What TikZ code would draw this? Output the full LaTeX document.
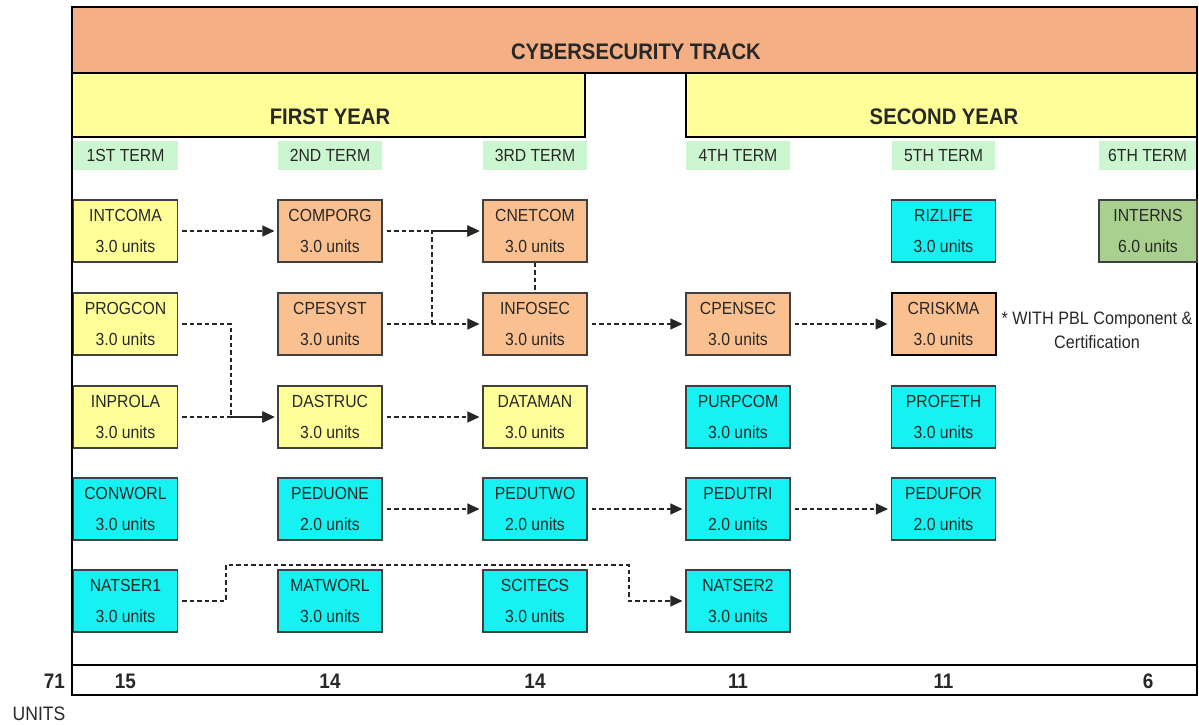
\documentclass[tikz,border=0pt]{standalone}
\usepackage{fontspec}
\setmainfont[FakeStretch=0.9]{Liberation Sans}
\usetikzlibrary{arrows.meta}
\definecolor{hdr}{RGB}{244,176,132}
\definecolor{yr}{RGB}{255,255,153}
\definecolor{termg}{RGB}{204,246,208}
\definecolor{cyell}{RGB}{255,255,153}
\definecolor{corange}{RGB}{250,192,144}
\definecolor{ccyan}{RGB}{22,242,242}
\definecolor{cgreen}{RGB}{169,208,142}
\definecolor{txt}{RGB}{40,40,40}
\tikzset{
  frame/.style={line width=2pt, black},
  course/.style={draw=black!75, line width=1.1pt, minimum width=104pt, minimum height=62pt,
    inner sep=0pt, align=center, text=txt, font=\fontsize{17.5}{31}\selectfont,
    execute at begin node={\rule{0pt}{17pt}}},
  ycourse/.style={course, fill=cyell},
  ocourse/.style={course, fill=corange},
  ccourse/.style={course, fill=ccyan},
  gcourse/.style={course, fill=cgreen},
  termlbl/.style={fill=termg, minimum height=29pt, inner sep=0pt, text=txt, font=\fontsize{17.5}{20}\selectfont},
  yearlbl/.style={inner sep=0pt, font=\fontsize{22.5}{25}\selectfont\bfseries, text=txt},
  total/.style={inner sep=0pt, font=\fontsize{21}{23}\selectfont\bfseries, text=txt},
  link/.style={dashed, dash pattern=on 4.5pt off 3pt, line width=1.1pt, black!85,
    -{Triangle[length=12pt,width=11pt]}, shorten <=4pt, shorten >=3pt},
  plainlink/.style={dashed, dash pattern=on 4.5pt off 3pt, line width=1.1pt, black!85},
}
\begin{document}
\begin{tikzpicture}[x=1pt,y=-1pt]
\useasboundingbox (0,0) rectangle (1199,725);
% header bands
\fill[hdr] (72,7) rectangle (1197,73);
\fill[yr] (72,73) rectangle (585,137);
\fill[yr] (686,73) rectangle (1197,137);
\draw[frame] (72,7) rectangle (1197,665);
\draw[frame] (72,73) -- (1197,73);
\draw[frame] (72,137) -- (585,137) -- (585,73);
\draw[frame] (686,73) -- (686,137) -- (1197,137);
\draw[frame] (72,665) rectangle (1197,695);
\node[yearlbl] (title) at (636,52) {CYBERSECURITY TRACK};
\node[yearlbl] (y1) at (330,117) {FIRST YEAR};
\node[yearlbl] (y2) at (944,117) {SECOND YEAR};
% terms
\node[termlbl, minimum width=105pt] (t1) at (125.5,155.5) {1ST TERM};
\node[termlbl, minimum width=104pt] (t2) at (330,155.5) {2ND TERM};
\node[termlbl, minimum width=104pt] (t3) at (535,155.5) {3RD TERM};
\node[termlbl, minimum width=104pt] (t4) at (738,155.5) {4TH TERM};
\node[termlbl, minimum width=103pt] (t5) at (943.5,155.5) {5TH TERM};
\node[termlbl, minimum width=97pt] (t6) at (1147.5,155.5) {6TH TERM};
% column 1
\node[ycourse] (intcoma) at (125.5,231) {INTCOMA\\3.0 units};
\node[ycourse] (progcon) at (125.5,324) {PROGCON\\3.0 units};
\node[ycourse] (inprola) at (125.5,417) {INPROLA\\3.0 units};
\node[ccourse] (conworl) at (125.5,509) {CONWORL\\3.0 units};
\node[ccourse] (natser1) at (125.5,601) {NATSER1\\3.0 units};
% column 2
\node[ocourse] (comporg) at (330,231) {COMPORG\\3.0 units};
\node[ocourse] (cpesyst) at (330,324) {CPESYST\\3.0 units};
\node[ycourse] (dastruc) at (330,417) {DASTRUC\\3.0 units};
\node[ccourse] (peduone) at (330,509) {PEDUONE\\2.0 units};
\node[ccourse] (matworl) at (330,601) {MATWORL\\3.0 units};
% column 3
\node[ocourse] (cnetcom) at (535,231) {CNETCOM\\3.0 units};
\node[ocourse] (infosec) at (535,324) {INFOSEC\\3.0 units};
\node[ycourse] (dataman) at (535,417) {DATAMAN\\3.0 units};
\node[ccourse] (pedutwo) at (535,509) {PEDUTWO\\2.0 units};
\node[ccourse] (scitecs) at (535,601) {SCITECS\\3.0 units};
% column 4
\node[ocourse] (cpensec) at (738,324) {CPENSEC\\3.0 units};
\node[ccourse] (purpcom) at (738,417) {PURPCOM\\3.0 units};
\node[ccourse] (pedutri) at (738,509) {PEDUTRI\\2.0 units};
\node[ccourse] (natser2) at (738,601) {NATSER2\\3.0 units};
% column 5
\node[ccourse] (rizlife) at (943.5,231) {RIZLIFE\\3.0 units};
\node[ocourse, line width=2pt, draw=black] (criskma) at (943.5,324) {CRISKMA\\3.0 units};
\node[ccourse] (profeth) at (943.5,417) {PROFETH\\3.0 units};
\node[ccourse] (pedufor) at (943.5,509) {PEDUFOR\\2.0 units};
% column 6
\node[gcourse, minimum width=98pt] (interns) at (1148,231) {INTERNS\\6.0 units};
% note
\node[inner sep=0pt, align=center, text=txt, font=\fontsize{18}{24}\selectfont] (note) at (1097,330) {* WITH PBL Component \&\\Certification};
% connectors
\coordinate (j1) at (432,231);
\coordinate (j2) at (432,324);
\draw[link] (intcoma) -- (comporg);
\draw[link] (comporg) -- (cnetcom);
\draw[link] (cpesyst) -- (infosec);
\draw[link] (cpesyst.east) -- (j2) -- (j1) -- (cnetcom.west);
\draw[plainlink] (cnetcom.south) -- (infosec.north);
\coordinate (j3) at (231,324);
\draw[link] (progcon.east) -- (j3) |- (dastruc.west);
\draw[link] (inprola) -- (dastruc);
\draw[link] (dastruc) -- (dataman);
\draw[link] (infosec) -- (cpensec);
\draw[link] (cpensec) -- (criskma);
\draw[link] (peduone) -- (pedutwo);
\draw[link] (pedutwo) -- (pedutri);
\draw[link] (pedutri) -- (pedufor);
\coordinate (n1) at (226,565);
\coordinate (n2) at (629,565);
\draw[link] (natser1.east) -| (n1) -- (n2) |- (natser2.west);
% totals
\node[total, anchor=east] (sum) at (65,681) {71};
\node[inner sep=0pt, text=txt, font=\fontsize{19.5}{21}\selectfont] (unitslbl) at (39,714) {UNITS};
\node[total] (s1) at (125.5,681) {15};
\node[total] (s2) at (330,681) {14};
\node[total] (s3) at (535,681) {14};
\node[total] (s4) at (738,681) {11};
\node[total] (s5) at (943.5,681) {11};
\node[total] (s6) at (1148,681) {6};
\end{tikzpicture}
\end{document}
